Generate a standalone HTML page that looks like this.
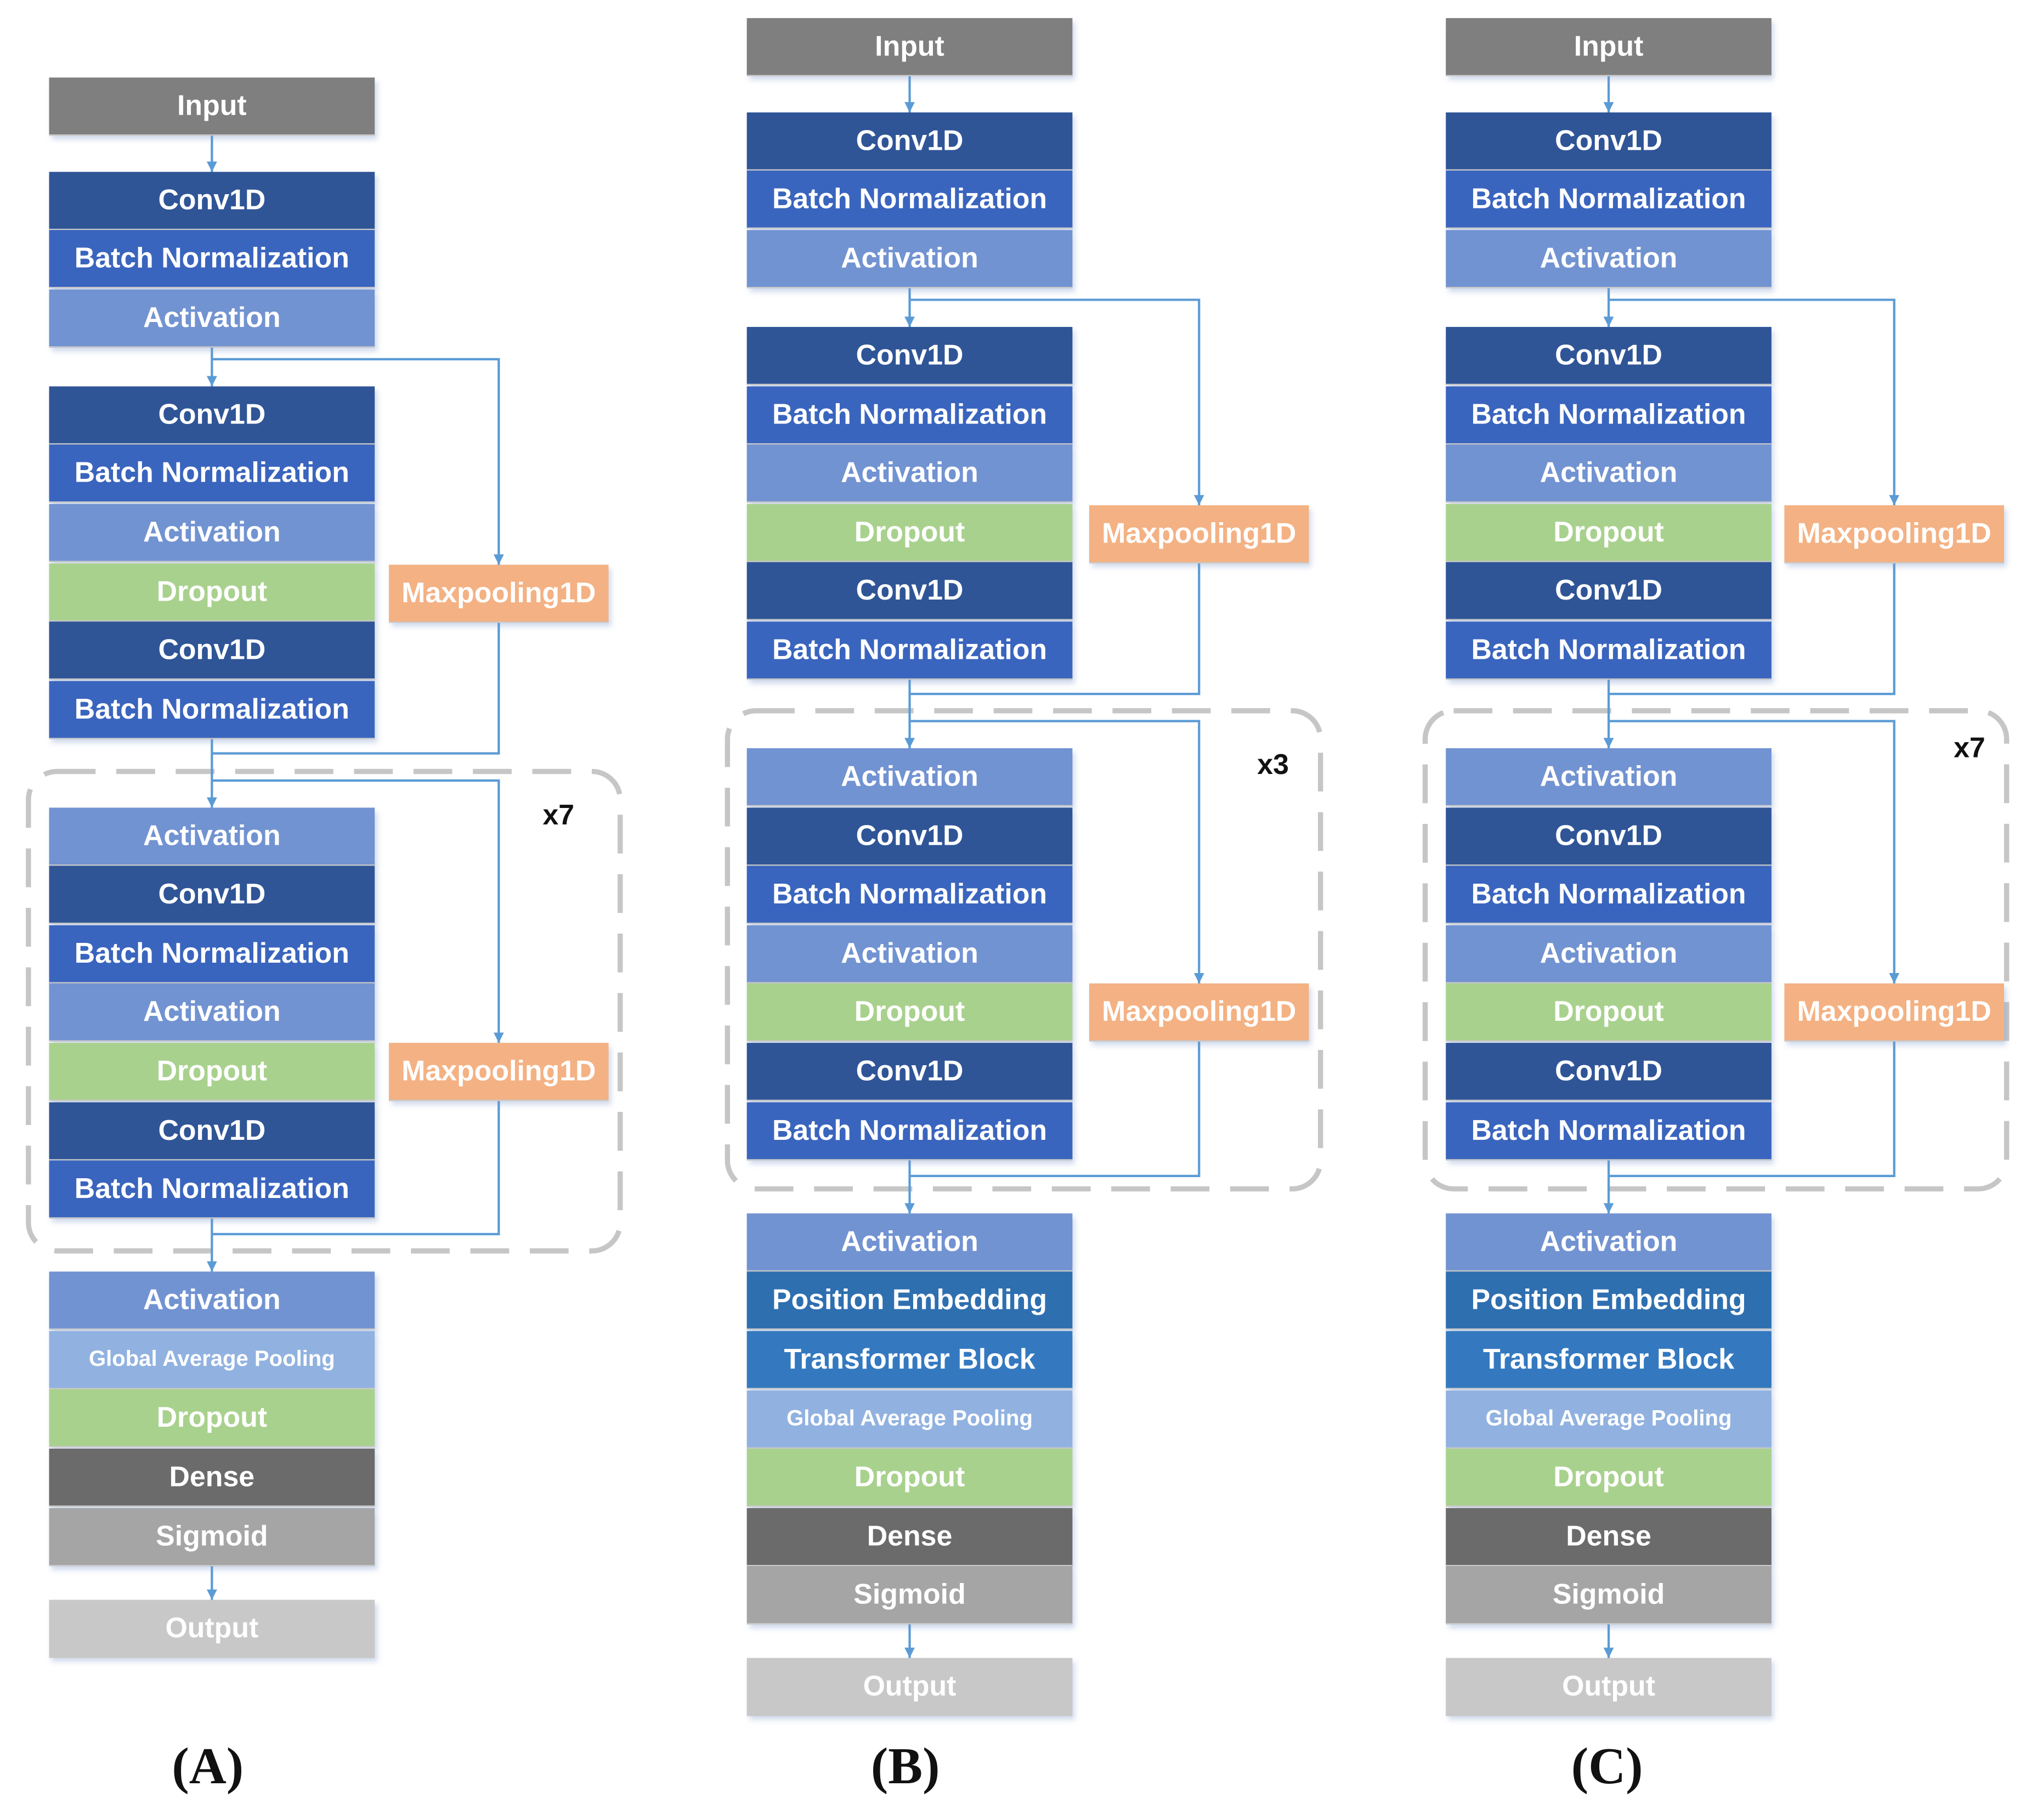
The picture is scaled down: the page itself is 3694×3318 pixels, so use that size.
<!DOCTYPE html>
<html><head><meta charset="utf-8"><style>
html,body{margin:0;padding:0;background:#fff;}
#wrap{position:relative;width:3694px;height:3318px;overflow:hidden;background:#fff;}
#s{position:absolute;left:0;top:0;width:1568px;height:1408px;transform:scale(2.35587);transform-origin:0 0;}
.b{position:absolute;width:252px;height:44px;line-height:44px;text-align:center;color:#fff;font-family:"Liberation Sans",sans-serif;font-weight:bold;font-size:22px;box-shadow:2px 3px 4px rgba(120,150,200,0.35);border-bottom:1.6px solid #c9c9c9;box-sizing:content-box;}
.mp{width:170px;}
.in{background:#7f7f7f}.cv{background:#2f5597}.bn{background:#3a65be}.ac{background:#7293d1}
.dr{background:#a9d18e}.mx{background:#f4b183}.gp{background:#91b2e0;font-size:17px;font-weight:bold}
.pe{background:#2e6fb0}.tb{background:#3479c0}.de{background:#6b6b6b}.sg{background:#a5a5a5}.ou{background:#c8c8c8}
.lab{position:absolute;font-family:"Liberation Serif",serif;font-weight:bold;font-size:40px;color:#111;}
.x{position:absolute;font-family:"Liberation Sans",sans-serif;font-weight:bold;font-size:22px;color:#111;}
svg{position:absolute;left:0;top:0;}
</style></head><body><div id="wrap"><div id="s">
<svg width="1568" height="1408" viewBox="0 0 1568 1408">
<defs><marker id="ar" viewBox="0 0 10 10" refX="10" refY="5" markerWidth="8" markerHeight="8" orient="auto" markerUnits="userSpaceOnUse"><path d="M0,0L10,5L0,10z" fill="#5b9bd5"/></marker></defs>
<g fill="none" stroke="#c6c6c6" stroke-width="4" stroke-dasharray="30 16">
<rect x="22" y="597" width="458" height="371" rx="22"/>
<rect x="563" y="550" width="459" height="370" rx="22"/>
<rect x="1103" y="550" width="450" height="370" rx="22"/>
</g>
<g fill="none" stroke="#5b9bd5" stroke-width="1.8">
<line x1="164" y1="103" x2="164" y2="133" marker-end="url(#ar)"/>
<line x1="164" y1="268" x2="164" y2="299" marker-end="url(#ar)"/>
<polyline points="164,278 386,278 386,437" marker-end="url(#ar)"/>
<polyline points="386,481 386,583 164,583"/>
<line x1="164" y1="571" x2="164" y2="625" marker-end="url(#ar)"/>
<polyline points="164,604 386,604 386,807" marker-end="url(#ar)"/>
<polyline points="386,851 386,955 164,955"/>
<line x1="164" y1="942" x2="164" y2="984" marker-end="url(#ar)"/>
<line x1="164" y1="1211" x2="164" y2="1238" marker-end="url(#ar)"/>
<line x1="704" y1="57" x2="704" y2="87" marker-end="url(#ar)"/>
<line x1="704" y1="222" x2="704" y2="253" marker-end="url(#ar)"/>
<polyline points="704,232 928,232 928,391" marker-end="url(#ar)"/>
<polyline points="928,435 928,537 704,537"/>
<line x1="704" y1="525" x2="704" y2="579" marker-end="url(#ar)"/>
<polyline points="704,558 928,558 928,761" marker-end="url(#ar)"/>
<polyline points="928,805 928,910 704,910"/>
<line x1="704" y1="897" x2="704" y2="939" marker-end="url(#ar)"/>
<line x1="704" y1="1256" x2="704" y2="1283" marker-end="url(#ar)"/>
<line x1="1245" y1="57" x2="1245" y2="87" marker-end="url(#ar)"/>
<line x1="1245" y1="222" x2="1245" y2="253" marker-end="url(#ar)"/>
<polyline points="1245,232 1466,232 1466,391" marker-end="url(#ar)"/>
<polyline points="1466,435 1466,537 1245,537"/>
<line x1="1245" y1="525" x2="1245" y2="579" marker-end="url(#ar)"/>
<polyline points="1245,558 1466,558 1466,761" marker-end="url(#ar)"/>
<polyline points="1466,805 1466,910 1245,910"/>
<line x1="1245" y1="897" x2="1245" y2="939" marker-end="url(#ar)"/>
<line x1="1245" y1="1256" x2="1245" y2="1283" marker-end="url(#ar)"/>
</g>
</svg>

<div class="b in" style="left:38px;top:60px">Input</div>
<div class="b cv" style="left:38px;top:133px">Conv1D</div>
<div class="b bn" style="left:38px;top:178px">Batch Normalization</div>
<div class="b ac" style="left:38px;top:224px">Activation</div>
<div class="b cv" style="left:38px;top:299px">Conv1D</div>
<div class="b bn" style="left:38px;top:344px">Batch Normalization</div>
<div class="b ac" style="left:38px;top:390px">Activation</div>
<div class="b dr" style="left:38px;top:436px">Dropout</div>
<div class="b cv" style="left:38px;top:481px">Conv1D</div>
<div class="b bn" style="left:38px;top:527px">Batch Normalization</div>
<div class="b mx mp" style="left:301px;top:437px">Maxpooling1D</div>
<div class="b ac" style="left:38px;top:625px">Activation</div>
<div class="b cv" style="left:38px;top:670px">Conv1D</div>
<div class="b bn" style="left:38px;top:716px">Batch Normalization</div>
<div class="b ac" style="left:38px;top:761px">Activation</div>
<div class="b dr" style="left:38px;top:807px">Dropout</div>
<div class="b cv" style="left:38px;top:853px">Conv1D</div>
<div class="b bn" style="left:38px;top:898px">Batch Normalization</div>
<div class="b mx mp" style="left:301px;top:807px">Maxpooling1D</div>
<div class="x" style="left:420px;top:618px">x7</div>
<div class="b ac" style="left:38px;top:984px">Activation</div>
<div class="b gp" style="left:38px;top:1030px">Global Average Pooling</div>
<div class="b dr" style="left:38px;top:1075px">Dropout</div>
<div class="b de" style="left:38px;top:1121px">Dense</div>
<div class="b sg" style="left:38px;top:1167px">Sigmoid</div>
<div class="b ou" style="left:38px;top:1238px">Output</div>
<div class="lab" style="left:133px;top:1343px">(A)</div>

<div class="b in" style="left:578px;top:14px">Input</div>
<div class="b cv" style="left:578px;top:87px">Conv1D</div>
<div class="b bn" style="left:578px;top:132px">Batch Normalization</div>
<div class="b ac" style="left:578px;top:178px">Activation</div>
<div class="b cv" style="left:578px;top:253px">Conv1D</div>
<div class="b bn" style="left:578px;top:299px">Batch Normalization</div>
<div class="b ac" style="left:578px;top:344px">Activation</div>
<div class="b dr" style="left:578px;top:390px">Dropout</div>
<div class="b cv" style="left:578px;top:435px">Conv1D</div>
<div class="b bn" style="left:578px;top:481px">Batch Normalization</div>
<div class="b mx mp" style="left:843px;top:391px">Maxpooling1D</div>
<div class="b ac" style="left:578px;top:579px">Activation</div>
<div class="b cv" style="left:578px;top:625px">Conv1D</div>
<div class="b bn" style="left:578px;top:670px">Batch Normalization</div>
<div class="b ac" style="left:578px;top:716px">Activation</div>
<div class="b dr" style="left:578px;top:761px">Dropout</div>
<div class="b cv" style="left:578px;top:807px">Conv1D</div>
<div class="b bn" style="left:578px;top:853px">Batch Normalization</div>
<div class="b mx mp" style="left:843px;top:761px">Maxpooling1D</div>
<div class="x" style="left:973px;top:579px">x3</div>
<div class="b ac" style="left:578px;top:939px">Activation</div>
<div class="b pe" style="left:578px;top:984px">Position Embedding</div>
<div class="b tb" style="left:578px;top:1030px">Transformer Block</div>
<div class="b gp" style="left:578px;top:1076px">Global Average Pooling</div>
<div class="b dr" style="left:578px;top:1121px">Dropout</div>
<div class="b de" style="left:578px;top:1167px">Dense</div>
<div class="b sg" style="left:578px;top:1212px">Sigmoid</div>
<div class="b ou" style="left:578px;top:1283px">Output</div>
<div class="lab" style="left:674px;top:1343px">(B)</div>

<div class="b in" style="left:1119px;top:14px">Input</div>
<div class="b cv" style="left:1119px;top:87px">Conv1D</div>
<div class="b bn" style="left:1119px;top:132px">Batch Normalization</div>
<div class="b ac" style="left:1119px;top:178px">Activation</div>
<div class="b cv" style="left:1119px;top:253px">Conv1D</div>
<div class="b bn" style="left:1119px;top:299px">Batch Normalization</div>
<div class="b ac" style="left:1119px;top:344px">Activation</div>
<div class="b dr" style="left:1119px;top:390px">Dropout</div>
<div class="b cv" style="left:1119px;top:435px">Conv1D</div>
<div class="b bn" style="left:1119px;top:481px">Batch Normalization</div>
<div class="b mx mp" style="left:1381px;top:391px">Maxpooling1D</div>
<div class="b ac" style="left:1119px;top:579px">Activation</div>
<div class="b cv" style="left:1119px;top:625px">Conv1D</div>
<div class="b bn" style="left:1119px;top:670px">Batch Normalization</div>
<div class="b ac" style="left:1119px;top:716px">Activation</div>
<div class="b dr" style="left:1119px;top:761px">Dropout</div>
<div class="b cv" style="left:1119px;top:807px">Conv1D</div>
<div class="b bn" style="left:1119px;top:853px">Batch Normalization</div>
<div class="b mx mp" style="left:1381px;top:761px">Maxpooling1D</div>
<div class="x" style="left:1512px;top:566px">x7</div>
<div class="b ac" style="left:1119px;top:939px">Activation</div>
<div class="b pe" style="left:1119px;top:984px">Position Embedding</div>
<div class="b tb" style="left:1119px;top:1030px">Transformer Block</div>
<div class="b gp" style="left:1119px;top:1076px">Global Average Pooling</div>
<div class="b dr" style="left:1119px;top:1121px">Dropout</div>
<div class="b de" style="left:1119px;top:1167px">Dense</div>
<div class="b sg" style="left:1119px;top:1212px">Sigmoid</div>
<div class="b ou" style="left:1119px;top:1283px">Output</div>
<div class="lab" style="left:1216px;top:1343px">(C)</div>
</div></div></body></html>
